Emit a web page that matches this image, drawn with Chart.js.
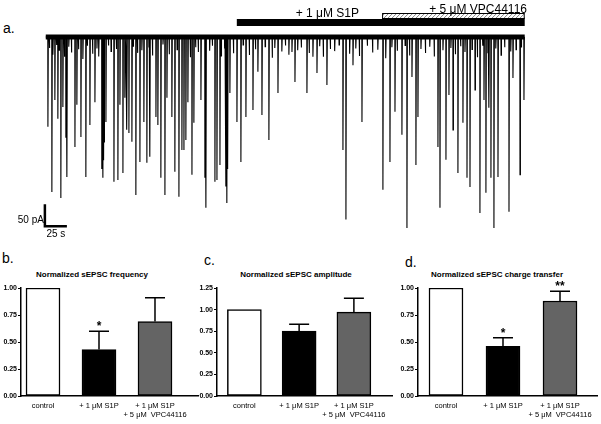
<!DOCTYPE html>
<html><head><meta charset="utf-8">
<script src="https://cdn.jsdelivr.net/npm/chart.js@4/dist/chart.umd.min.js"></script>
<style>
body{margin:0;background:#fff;width:601px;height:424px;overflow:hidden;position:relative;font-family:'Liberation Sans',Arial,sans-serif;}
canvas{position:absolute;}
.lbl{position:absolute;font-size:14px;color:#000;line-height:1;}
.ttl{position:absolute;font-size:8px;font-weight:bold;color:#000;transform:translateX(-50%);white-space:nowrap;line-height:1;}
</style></head><body>
<div class="lbl" style="left:3px;top:21px">a.</div>
<div class="lbl" style="left:2px;top:251px">b.</div>
<div class="lbl" style="left:204px;top:253px">c.</div>
<div class="lbl" style="left:405px;top:255px">d.</div>
<div class="ttl" style="left:92px;top:271px">Normalized sEPSC frequency</div>
<div class="ttl" style="left:296px;top:271px">Normalized sEPSC amplitude</div>
<div class="ttl" style="left:497px;top:271px">Normalized sEPSC charge transfer</div>
<canvas id="trace" width="601" height="242" style="left:0;top:0"></canvas>
<canvas id="pb" width="200" height="174" style="left:0;top:250px"></canvas>
<canvas id="pc" width="202" height="174" style="left:196px;top:250px"></canvas>
<canvas id="pd" width="204" height="174" style="left:397px;top:250px"></canvas>
<script>
// ---------- trace data (time in s, event amplitude in pA, inward = downward) ----------
const spikeT = [2.3,6.8,10.2,13.6,17.0,19.3,22.7,23.9,33.0,35.2,39.8,45.4,50.0,55.7,63.5,64.8,65.6,66.4,68.2,77.3,81.8,84.1,87.5,89.7,92.0,94.3,97.7,102.2,106.8,111.3,114.7,118.1,125.0,127.2,130.6,135.2,137.5,143.1,146.5,151.1,154.5,156.8,159.0,161.3,165.9,168.1,176.1,180.6,181.8,192.0,194.3,197.7,204.5,205.6,206.5,209.0,217.0,221.5,227.2,235.2,240.8,245.4,253.3,263.6,279.5,282.9,296.5,303.3,307.9,319.2,337.4,340.8,348.8,359.0,382.8,390.8,396.5,404.4,410.1,415.8,420.3,422.6,445.3,447.6,454.4,457.8,462.4,468.0,473.7,478.3,481.7,487.4,493.0,497.6,499.8,503.2,505.5,508.9,513.5,526.0,530.5,538.5,543.0];
const spikeA = [204,352,143,186,366,159,229,318,250,154,227,318,200,148,300,320,280,240,193,329,325,154,309,138,211,218,238,359,284,193,286,272,182,200,320,359,138,182,306,363,257,257,234,148,313,195,143,320,388,329,325,291,340,377,300,127,193,284,182,166,79,177,234,127,34,102,127,45,82,109,257,415,64,193,347,284,170,222,434,91,291,182,250,388,279,132,211,309,195,320,341,120,400,143,354,161,320,434,318,397,93,313,143];
const smallT = [4,8,12,15,21,26,29,37,42,47,53,58,60,71,74,80,91,99,104,109,117,121,133,140,149,164,170,173,186,189,199,203,213,224,231,238,249,257,260,268,272,276,286,290,299,311,315,323,328,333,345,352,356,365,371,377,386,393,399,408,413,426,431,436,441,451,460,465,471,476,484,490,496,502,511,517,521,528,534,540];
const smallA = [25,40,18,30,45,22,35,28,50,20,38,26,44,19,33,27,48,21,36,30,24,42,17,39,29,46,23,34,31,20,43,26,37,18,41,28,22,47,25,33,19,40,30,24,36,21,45,27,32,18,38,26,43,20,35,29,48,23,31,19,42,27,36,22,44,30,25,39,21,34,28,46,20,37,26,41,23,33,29,24];
const recStart = 0, recEnd = 544;          // s
const s1pStart = 217, vpcStart = 382;       // s, drug application onsets
const scaleBarPA = 50, scaleBarS = 25;

// ---------- bar data ----------
const conditions = ['control', '+ 1 μM S1P', ['+ 1 μM S1P', '+ 5 μM  VPC44116']];
const freqMean = [1.00, 0.43, 0.69];
const freqSem  = [0, 0.17, 0.22];
const freqSig  = ['', '*', ''];
const ampMean  = [1.00, 0.75, 0.97];
const ampSem   = [0, 0.08, 0.16];
const ampSig   = ['', '', ''];
const chgMean  = [1.00, 0.46, 0.88];
const chgSem   = [0, 0.08, 0.09];
const chgSig   = ['', '*', '**'];
const barColors = ['#ffffff', '#000000', '#646464'];

const FONT = "'Liberation Sans', Arial, sans-serif";
Chart.defaults.font.family = FONT;

// ---------- trace ----------
const events = spikeT.map((t,i)=>[t,spikeA[i]]).concat(smallT.map((t,i)=>[t,smallA[i]])).sort((a,b)=>a[0]-b[0]);
const tracePts = [{x:recStart,y:0}];
events.forEach(([t,a])=>{ tracePts.push({x:t,y:0},{x:t+0.15,y:-a},{x:t+0.6,y:0}); });
tracePts.push({x:recEnd,y:0});

const traceDeco = {
  id:'traceDeco',
  afterDraw(chart){
    const {ctx, scales:{x,y}} = chart;
    ctx.save();
    const xs=x.getPixelForValue(s1pStart), xv=x.getPixelForValue(vpcStart), xe=x.getPixelForValue(recEnd);
    ctx.fillStyle='#000';
    ctx.fillRect(xs,19,xe-xs,7);
    ctx.fillRect(xv,18,xe-xv,1);
    ctx.fillStyle='#fff'; ctx.fillRect(xv,13,xe-xv,5);
    ctx.save(); ctx.beginPath(); ctx.rect(xv,13,xe-xv,5); ctx.clip();
    ctx.strokeStyle='#666'; ctx.lineWidth=0.8;
    for(let px=xv-6; px<xe+6; px+=4){ ctx.beginPath(); ctx.moveTo(px,18); ctx.lineTo(px+5,13); ctx.stroke(); }
    ctx.restore();
    ctx.strokeStyle='#000'; ctx.lineWidth=1; ctx.strokeRect(xv+0.5,13.5,xe-xv-1,5);
    ctx.fillStyle='#000'; ctx.font='12px '+FONT; ctx.textBaseline='alphabetic'; ctx.textAlign='right';
    ctx.fillText('+ 1 μM S1P', 359, 16.5);
    ctx.fillText('+ 5 μM VPC44116', 527, 12.5);
    // scale bar
    const sx0=x.getPixelForValue(-1), sx1=x.getPixelForValue(-1+scaleBarS);
    const sy0=y.getPixelForValue(-380), sy1=y.getPixelForValue(-380-scaleBarPA);
    ctx.lineWidth=2.5; ctx.strokeStyle='#000';
    ctx.beginPath(); ctx.moveTo(sx0,sy0); ctx.lineTo(sx0,sy1); ctx.lineTo(sx1,sy1); ctx.stroke();
    ctx.font='10px '+FONT; ctx.textAlign='right';
    ctx.fillText(scaleBarPA+' pA', sx0-1, sy1-3);
    ctx.textAlign='center';
    ctx.fillText(scaleBarS+' s', (sx0+sx1)/2, sy1+11);
    ctx.restore();
  }
};

new Chart(document.getElementById('trace'), {
  type:'line',
  data:{datasets:[
    {data:[{x:recStart,y:0},{x:recEnd,y:0}], borderColor:'#000', borderWidth:5, pointRadius:0},
    {data:tracePts, borderColor:'#000', borderWidth:1.1, pointRadius:0, tension:0}
  ]},
  options:{responsive:false, animation:false, devicePixelRatio:1,
    layout:{padding:{left:44,right:74,top:30,bottom:7}},
    plugins:{legend:{display:false},tooltip:{enabled:false}},
    scales:{
      x:{type:'linear', min:-2, max:546.6, display:false},
      y:{min:-450, max:16, display:false}
    }},
  plugins:[traceDeco]
});

// ---------- bar panels ----------
const errPlugin = {
  id:'err',
  afterDatasetsDraw(chart, args, o){
    const {ctx, scales:{x,y}} = chart;
    ctx.save();
    o.mean.forEach((v,i)=>{
      const e=o.sem[i]; if(!e) return;
      const cx=x.getPixelForValue(i), y0=y.getPixelForValue(v), y1=y.getPixelForValue(v+e);
      ctx.strokeStyle='#000'; ctx.lineWidth=1.5;
      ctx.beginPath(); ctx.moveTo(cx,y0); ctx.lineTo(cx,y1); ctx.moveTo(cx-10,y1); ctx.lineTo(cx+10,y1); ctx.stroke();
      if(o.sig[i]){ ctx.fillStyle='#000'; ctx.font='bold 12px '+FONT; ctx.textAlign='center'; ctx.textBaseline='alphabetic'; ctx.fillText(o.sig[i], cx, y1-1); }
    });
    ctx.restore();
  }
};

function barPanel(id, mean, sem, sig, yMax, xMin, xMax, padR, barW){
  return new Chart(document.getElementById(id), {
    type:'bar',
    data:{datasets:[{data:mean.map((v,i)=>({x:i,y:v})), backgroundColor:barColors, borderColor:'#000', borderWidth:1.5, barThickness:barW, borderSkipped:false}]},
    options:{responsive:false, animation:false, devicePixelRatio:1,
      layout:{padding:{top:38,right:padR,left:0,bottom:0}},
      plugins:{legend:{display:false}, tooltip:{enabled:false}, err:{mean, sem, sig}},
      scales:{
        x:{type:'linear', min:xMin, max:xMax, offset:false, grid:{display:false, drawTicks:false, tickLength:0},
           border:{display:true,color:'#000',width:1.5},
           afterBuildTicks(s){ s.ticks=[0,1,2].map(v=>({value:v})); },
           ticks:{autoSkip:false, maxRotation:0, padding:5, color:'#000', font:{size:7.5}, callback:(v)=>conditions[v]},
           afterFit(s){ s.height=28; }},
        y:{min:0, max:yMax,
           grid:{display:true, drawOnChartArea:false, tickLength:3, color:'#000', lineWidth:1},
           border:{display:true,color:'#000',width:1.5},
           ticks:{stepSize:0.25, padding:1, color:'#000', font:{size:7,weight:'bold'}, callback:(v)=>v.toFixed(2)},
           afterFit(s){ s.width=21; }}
      }},
    plugins:[errPlugin]
  });
}
barPanel('pb', freqMean, freqSem, freqSig, 1.00, -0.393, 2.768, 2, 34);
barPanel('pc', ampMean, ampSem, ampSig, 1.25, -0.5, 2.696, 6, 34);
barPanel('pd', chgMean, chgSem, chgSig, 1.00, -0.491, 2.649, 4, 34);
</script>
</body></html>
